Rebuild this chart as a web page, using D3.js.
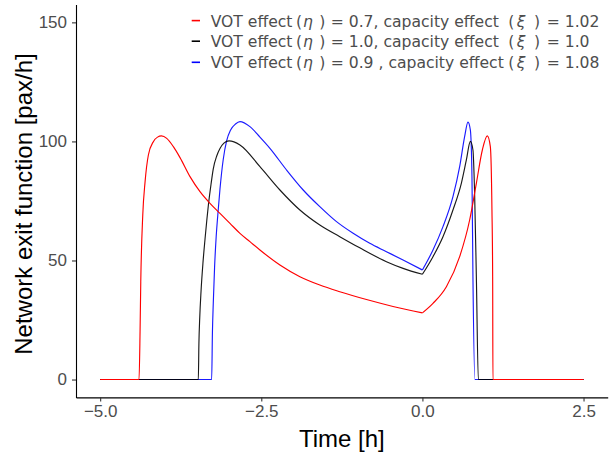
<!DOCTYPE html>
<html>
<head>
<meta charset="utf-8">
<script src="https://cdn.jsdelivr.net/npm/d3@7"></script>
<style>
  html, body { margin: 0; padding: 0; background: #fff; }
  svg { display: block; }
</style>
</head>
<body>
<svg id="chart" width="611" height="459"></svg>
<script>
// ---- data ----
const xTicks = [-5.0, -2.5, 0.0, 2.5];
const yTicks = [0, 50, 100, 150];

const redT = [-5, -4.397, -4.381, -4.370, -4.339, -4.303, -4.252, -4.175, -4.11, -4.05, -3.967, -3.864, -3.761, -3.606, -3.451, -3.296, -3.141, -2.986, -2.831, -2.676, -2.521, -2.211, -1.901, -1.592, -1.282, -0.868, -0.456, 0,
              0.164, 0.372, 0.578, 0.733, 0.837, 0.930, 1.007, 1.054, 1.079, 1.090, 1.094, 2.5];
const redY = [0, 0, 20.1, 41.1, 69.1, 83.1, 94.3, 99.9, 101.8, 102.3, 101.3, 97.8, 93.2, 85.2, 78.9, 74.0, 69.8, 65.6, 61.4, 57.9, 54.4, 48.1, 43.2, 39.7, 36.9, 33.6, 30.7, 28.0,
              32.0, 39.0, 51.6, 67.0, 82.4, 96.4, 102.3, 97.8, 71.2, 43.2, 0, 0];

const blackT = [-5, -3.477, -3.468, -3.455, -3.435, -3.405, -3.373, -3.345, -3.32, -3.28, -3.245, -3.19, -3.141, -3.08, -3.0, -2.831, -2.521, -2.211, -1.901, -1.592, -1.282, -0.972, -0.558, -0.300, 0,
                0.164, 0.319, 0.474, 0.604, 0.682, 0.744, 0.784, 0.810, 0.837, 0.868, 2.5];
const blackY = [0, 0, 15, 26, 37, 49, 59, 67, 73.5, 82, 88.5, 94, 97, 99.3, 100.2, 98.5, 89.4, 79.6, 71.2, 64.9, 60.0, 55.3, 49.5, 46.7, 44.2,
                51.6, 60.0, 71.2, 82.4, 92.2, 100.0, 96.4, 78.2, 43.2, 0, 0];

const blueT = [-5, -3.270, -3.258, -3.245, -3.225, -3.20, -3.175, -3.141, -3.09, -3.037, -2.976, -2.90, -2.831, -2.676, -2.521, -2.366, -2.108, -1.850, -1.592, -1.333, -1.075, -0.817, -0.558, -0.300, 0,
               0.164, 0.319, 0.474, 0.578, 0.655, 0.707, 0.744, 0.769, 0.784, 0.815, 2.5];
const blueY = [0, 0, 20, 32, 47, 60, 69, 80, 92.5, 100.3, 104.8, 107.3, 108.3, 106.2, 101.8, 97.1, 88.0, 79.6, 72.6, 66.3, 61.4, 57.2, 53.7, 50.2, 46.0,
               54.4, 64.2, 76.8, 89.4, 102.0, 108.1, 104.8, 85.2, 43.2, 0, 0];

const seriesColors = ["#ff0000", "#000000", "#0000ff"];
const etaValues = ["0.7,", "1.0,", "0.9 ,"];
const xiValues = ["1.02", "1.0", "1.08"];

const xTitle = "Time [h]";
const yTitle = "Network exit function [pax/h]";

// ---- layout ----
const svg = d3.select("#chart");
const plotLeft = 76, plotRight = 607.7, plotTop = 4.5, plotBottom = 397.4;

const x = d3.scaleLinear().domain([-5.375, 2.875]).range([plotLeft, plotRight]);
const y = d3.scaleLinear().domain([-7.5, 157.5]).range([plotBottom, plotTop]);

// ---- lines ----
const series = [
  {t: blueT, v: blueY, color: seriesColors[2], op: 0.9},
  {t: blackT, v: blackY, color: seriesColors[1], op: 0.9},
  {t: redT, v: redY, color: seriesColors[0], op: 1}
];

const line = d3.line().x(d => x(d[0])).y(d => y(d[1])).curve(d3.curveMonotoneX);

series.forEach(s => {
  const pts = s.t.map((t, i) => [t, s.v[i]]);
  const partA = pts.filter(p => p[0] <= 0);
  const partB = pts.filter(p => p[0] >= 0);
  [partA, partB].forEach(part => {
    svg.append("path")
      .attr("d", line(part))
      .attr("fill", "none")
      .attr("stroke", s.color)
      .attr("stroke-opacity", s.op)
      .attr("stroke-width", 1.15)
      .attr("stroke-linejoin", "round");
  });
});

// ---- axes ----
const fmtX = d => d3.format(".1f")(d).replace("-", "\u2212");
const xAxis = svg.append("g")
  .attr("transform", `translate(0,${plotBottom})`)
  .call(d3.axisBottom(x).tickValues(xTicks).tickFormat(fmtX).tickSize(4).tickSizeOuter(0).tickPadding(3.5));
const yAxis = svg.append("g")
  .attr("transform", `translate(${plotLeft},0)`)
  .call(d3.axisLeft(y).tickValues(yTicks).tickSize(4).tickSizeOuter(0).tickPadding(5));

[xAxis, yAxis].forEach(g => {
  g.select(".domain").attr("stroke", "#000").attr("stroke-width", 1.1);
  g.selectAll(".tick line").attr("stroke", "#333").attr("stroke-width", 1.1);
  g.selectAll(".tick text")
    .attr("fill", "#4d4d4d")
    .attr("font-family", "'Liberation Sans', Arial, sans-serif")
    .attr("font-size", 17);
});

// axis titles
svg.append("text")
  .attr("x", (plotLeft + plotRight) / 2)
  .attr("y", 447)
  .attr("text-anchor", "middle")
  .attr("font-family", "'Liberation Sans', Arial, sans-serif")
  .attr("font-size", 24)
  .attr("fill", "#000")
  .text(xTitle);

svg.append("text")
  .attr("transform", "translate(32,204) rotate(-90)")
  .attr("text-anchor", "middle")
  .attr("font-family", "'Liberation Sans', Arial, sans-serif")
  .attr("font-size", 24)
  .attr("fill", "#000")
  .text(yTitle);

// ---- legend ----
const legFont = "'DejaVu Sans', sans-serif";
const legSize = 15.6;
const legColor = "#4d4d4d";
const baselines = [26.6, 47.2, 68.3];

[0, 1, 2].forEach((k, i) => {
  const by = baselines[i];
  const g = svg.append("g");
  g.append("line")
    .attr("x1", 191.7).attr("x2", 200)
    .attr("y1", by - 6).attr("y2", by - 6)
    .attr("stroke", seriesColors[k]).attr("stroke-width", 1.6);
  const t = g.append("text")
    .attr("y", by)
    .attr("font-family", legFont)
    .attr("font-size", legSize)
    .attr("fill", legColor);
  t.append("tspan").attr("x", 210.7).text("VOT effect");
  t.append("tspan").attr("x", 296).text("(");
  t.append("tspan").attr("x", 303).attr("font-style", "italic").text("\u03b7");
  t.append("tspan").attr("x", 319.3).text(")");
  t.append("tspan").attr("x", 330.7).text("= " + etaValues[k] + " capacity effect");
  t.append("tspan").attr("x", 508.3).text("(");
  t.append("tspan").attr("x", 516.7).attr("font-style", "italic").text("\u03be");
  t.append("tspan").attr("x", 534).text(")");
  t.append("tspan").attr("x", 546.7).text("= " + xiValues[k]);
});
</script>
</body>
</html>
